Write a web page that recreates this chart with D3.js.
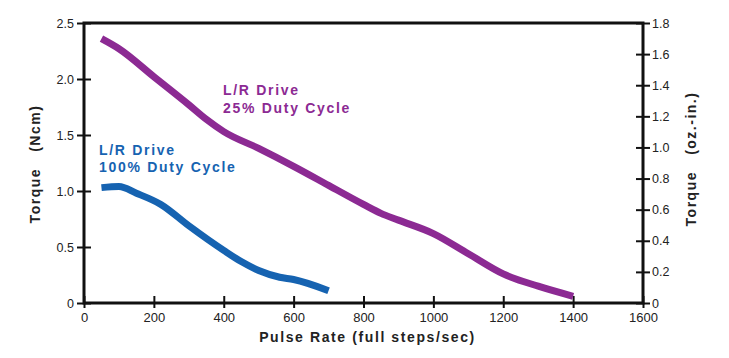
<!DOCTYPE html>
<html lang="en">
<head>
    <meta charset="UTF-8">
    <title>Torque vs Pulse Rate</title>
    <style>
        body, html {
            margin: 0;
            padding: 0;
            background-color: #ffffff;
            overflow: hidden;
        }

        svg {
            font-family: "Liberation Sans", Arial, sans-serif;
        }

        .tick text {
            font-size: 12.5px;
            fill: #222;
        }

        .tick line, .frame {
            stroke: #111;
        }

        .title {
            font-size: 14px;
            font-weight: bold;
            fill: #222;
            letter-spacing: 1.5px;
            white-space: pre;
        }

        .label {
            font-size: 14px;
            font-weight: bold;
            letter-spacing: 1.7px;
        }
    </style>
</head>
<body>
    <div id="chart"></div>

    <script src="https://d3js.org/d3.v7.min.js"></script>

    <script>
        // pulse rate (full steps/sec) vs torque (Ncm)
        const duty25X = [50, 100, 200, 300, 350, 400, 500, 600, 700, 800, 850, 900, 1000, 1100, 1200, 1300, 1400];
        const duty25Y = [2.36, 2.27, 2.02, 1.77, 1.64, 1.53, 1.38, 1.22, 1.05, 0.88, 0.80, 0.74, 0.62, 0.44, 0.26, 0.15, 0.06];

        const duty100X = [50, 100, 150, 220, 300, 400, 450, 500, 560, 600, 700];
        const duty100Y = [1.03, 1.04, 0.98, 0.88, 0.69, 0.47, 0.37, 0.29, 0.23, 0.21, 0.11];

        const xTicks = [0, 200, 400, 600, 800, 1000, 1200, 1400, 1600];
        const leftTicks = [0, 0.5, 1.0, 1.5, 2.0, 2.5];
        const rightTicks = [0, 0.2, 0.4, 0.6, 0.8, 1.0, 1.2, 1.4, 1.6, 1.8];

        const width = 729, height = 358;
        const plotL = 84, plotR = 643, plotT = 23, plotB = 303;

        const svg = d3.select('#chart').append('svg')
            .attr('width', width)
            .attr('height', height);

        const x = d3.scaleLinear().domain([0, 1600]).range([plotL, plotR]);
        const y = d3.scaleLinear().domain([0, 2.5]).range([plotB, plotT]);
        const y2 = d3.scaleLinear().domain([0, 1.8]).range([plotB, plotT]);

        // axes - ticks cross the frame line
        const xAxis = svg.append('g')
            .attr('transform', `translate(0,${plotB})`)
            .call(d3.axisBottom(x).tickValues(xTicks).tickFormat(d3.format('d')).tickSize(5).tickPadding(5));
        xAxis.selectAll('.tick line').attr('y1', -7).attr('stroke-width', 2);
        xAxis.selectAll('.tick text').style('font-size', '13px');

        const yAxis = svg.append('g')
            .attr('transform', `translate(${plotL},0)`)
            .call(d3.axisLeft(y).tickValues(leftTicks).tickFormat(d => d === 0 ? '0' : d3.format('.1f')(d)).tickSize(7).tickPadding(3));
        yAxis.selectAll('.tick line').attr('x1', 7).attr('stroke-width', 2);

        const yAxis2 = svg.append('g')
            .attr('transform', `translate(${plotR},0)`)
            .call(d3.axisRight(y2).tickValues(rightTicks).tickFormat(d => d === 0 ? '0' : d3.format('.1f')(d)).tickSize(7).tickPadding(2));
        yAxis2.selectAll('.tick line').attr('x1', -7).attr('stroke-width', 2);

        svg.selectAll('.domain').remove();

        svg.append('rect')
            .attr('class', 'frame')
            .attr('x', plotL)
            .attr('y', plotT)
            .attr('width', plotR - plotL)
            .attr('height', plotB - plotT)
            .attr('fill', 'none')
            .attr('stroke-width', 3);

        // curves
        const line = d3.line()
            .x(d => x(d[0]))
            .y(d => y(d[1]))
            .curve(d3.curveMonotoneX);

        svg.append('path')
            .datum(d3.zip(duty25X, duty25Y))
            .attr('d', line)
            .attr('fill', 'none')
            .attr('stroke', '#8c2a93')
            .attr('stroke-width', 7);

        svg.append('path')
            .datum(d3.zip(duty100X, duty100Y))
            .attr('d', line)
            .attr('fill', 'none')
            .attr('stroke', '#1663b1')
            .attr('stroke-width', 7);

        // curve labels
        const lab25 = svg.append('text').attr('class', 'label').attr('fill', '#8c2a93');
        lab25.append('tspan').attr('x', 223).attr('y', 95).text('L/R Drive');
        lab25.append('tspan').attr('x', 223).attr('y', 113).text('25% Duty Cycle');

        const lab100 = svg.append('text').attr('class', 'label').attr('fill', '#1663b1');
        lab100.append('tspan').attr('x', 99).attr('y', 155).text('L/R Drive');
        lab100.append('tspan').attr('x', 99).attr('y', 172).text('100% Duty Cycle');

        // axis titles
        svg.append('text')
            .attr('class', 'title')
            .attr('x', (plotL + plotR) / 2 + 4)
            .attr('y', 342)
            .attr('text-anchor', 'middle')
            .style('letter-spacing', '1.6px')
            .text('Pulse Rate (full steps/sec)');

        svg.append('text')
            .attr('class', 'title')
            .attr('transform', 'translate(40,164) rotate(-90)')
            .attr('text-anchor', 'middle')
            .text('Torque   (Ncm)');

        svg.append('text')
            .attr('class', 'title')
            .attr('transform', 'translate(696,159) rotate(-90)')
            .attr('text-anchor', 'middle')
            .text('Torque   (oz.-in.)');
    </script>
</body>
</html>
